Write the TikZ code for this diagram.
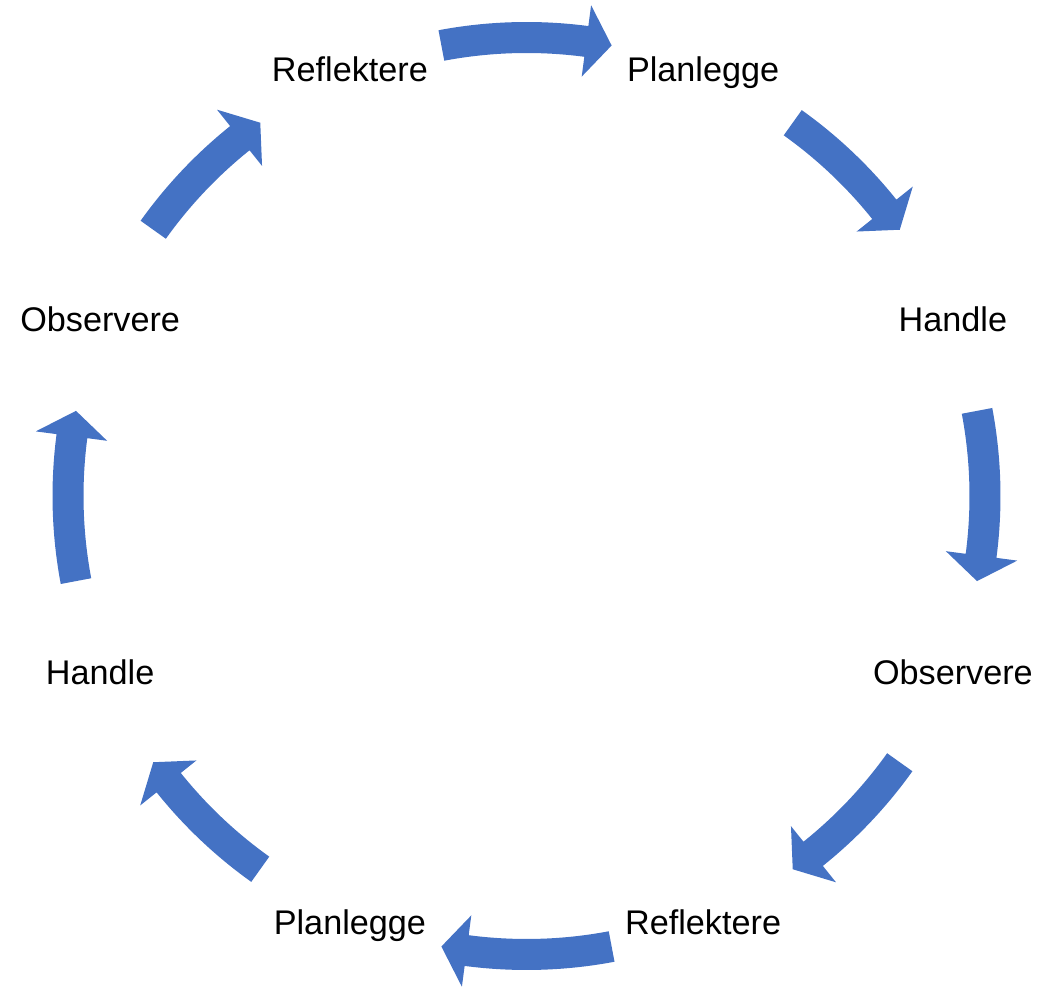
\documentclass[tikz,border=0pt]{standalone}
\usepackage{fontspec}
\setmainfont{Liberation Sans}
\definecolor{arrowblue}{HTML}{4472C4}
\begin{document}
\begin{tikzpicture}[x=1pt,y=1pt,
  lbl/.style={inner sep=0pt, anchor=base, yshift=-12pt, font=\fontsize{34.2}{40}\selectfont},
  cyclearrow/.style={fill=arrowblue, draw=none}]
\useasboundingbox (0,0) rectangle (1038,987);
\begin{scope}[shift={(526.5,491)}]
  % curved block arrows (clockwise)
  \foreach \t/\s in {90/10.7, 45/9.5, 0/10.7, -45/9.5, -90/10.7, -135/9.5, -180/10.7, 135/9.5}{
    \pgfmathsetmacro{\at}{\t+\s}
    \pgfmathsetmacro{\ab}{\t-\s+3.2}
    \pgfmathsetmacro{\ap}{\t-\s}
    \fill[cyclearrow] (\at:474) arc[start angle=\at, end angle=\ab, radius=474]
      -- (\ab:495) -- (\ap:458.5) -- (\ab:423) -- (\ab:443)
      arc[start angle=\ab, end angle=\at, radius=443] -- cycle;
  }
  % labels
  \node[lbl] (planA) at (67.5:461.5) {Planlegge};
  \node[lbl] (handA) at (22.5:461.5) {Handle};
  \node[lbl] (obsA) at (-22.5:461.5) {Observere};
  \node[lbl] (refA) at (-67.5:461.5) {Reflektere};
  \node[lbl] (planB) at (-112.5:461.5) {Planlegge};
  \node[lbl] (handB) at (-157.5:461.5) {Handle};
  \node[lbl] (obsB) at (157.5:461.5) {Observere};
  \node[lbl] (refB) at (112.5:461.5) {Reflektere};
\end{scope}
\end{tikzpicture}
\end{document}
